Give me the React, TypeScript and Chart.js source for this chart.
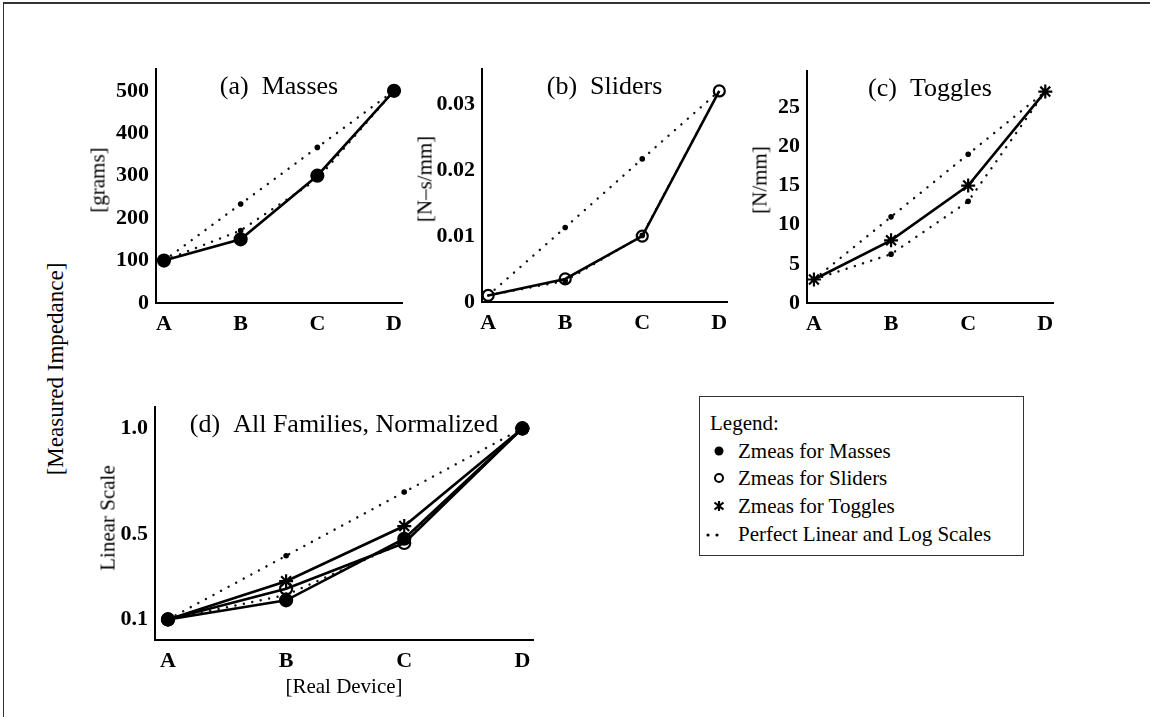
import React, { useEffect, useRef } from "react";
import { Chart, registerables } from "chart.js";
Chart.register(...registerables);

const CATEGORIES = ["A", "B", "C", "D"];

const MASSES = [100, 150, 300, 500];
const MASSES_LINEAR = [100, 233.3, 366.7, 500];
const MASSES_LOG = [100, 171, 292, 500];

const SLIDERS = [0.001, 0.0035, 0.01, 0.032];
const SLIDERS_LINEAR = [0.001, 0.0113, 0.0217, 0.032];
const SLIDERS_LOG = [0.001, 0.0032, 0.0101, 0.032];

const TOGGLES = [3, 8, 15, 27];
const TOGGLES_LINEAR = [3, 11, 19, 27];
const TOGGLES_LOG = [3, 6.24, 12.98, 27];

const NORM_MASSES = [0.1, 0.19, 0.48, 1.0];
const NORM_SLIDERS = [0.1, 0.245, 0.46, 1.0];
const NORM_TOGGLES = [0.1, 0.28, 0.54, 1.0];
const NORM_LINEAR = [0.1, 0.4, 0.7, 1.0];
const NORM_LOG = [0.1, 0.215, 0.464, 1.0];

const TICKS_MASSES = [0, 100, 200, 300, 400, 500];
const TICKS_SLIDERS = [0, 0.01, 0.02, 0.03];
const TICKS_TOGGLES = [0, 5, 10, 15, 20, 25];
const TICKS_NORM = [0.1, 0.5, 1.0];
const TICK_LABELS_NORM = ["0.1", "0.5", "1.0"];

const SERIF = "'Liberation Serif', 'Times New Roman', serif";

const pts = (vals: number[]) => vals.map((y, i) => ({ x: i, y }));

const solid = (vals: number[], style: string, fill: boolean, r = 5.5) => ({
  data: pts(vals),
  borderColor: "#000",
  borderWidth: 2.6,
  backgroundColor: fill ? "#000" : "rgba(0,0,0,0)",
  pointBorderColor: "#000",
  pointBackgroundColor: fill ? "#000" : "rgba(0,0,0,0)",
  pointBorderWidth: 2.2,
  pointStyle: style,
  pointRadius: r,
  tension: 0,
});

const dotted = (vals: number[]) => ({
  data: pts(vals),
  borderColor: "#111",
  borderWidth: 2.4,
  borderDash: [0.1, 8.5],
  borderCapStyle: "round",
  backgroundColor: "#000",
  pointBackgroundColor: "#000",
  pointBorderColor: "#000",
  pointBorderWidth: 0,
  pointStyle: "circle",
  pointRadius: [0, 2.8, 2.8, 0],
  tension: 0,
});

const AXW = 70;
const AXH = 45;
const PADT = 6;
const PADR = 16;

type PanelProps = {
  plotLeft: number;
  plotTop: number;
  plotW: number;
  plotH: number;
  xMin: number;
  xMax: number;
  yMin: number;
  yMax: number;
  yTicks: number[];
  yLabel: (v: number) => string;
  datasets: any[];
  title: string;
};

function Panel(p: PanelProps) {
  const ref = useRef<HTMLCanvasElement | null>(null);
  const w = AXW + p.plotW + PADR;
  const h = PADT + p.plotH + AXH;
  useEffect(() => {
    if (!ref.current) return;
    const titlePlugin = {
      id: "insideTitle",
      afterDraw(chart: any) {
        const { ctx, chartArea } = chart;
        ctx.save();
        ctx.font = `26px ${SERIF}`;
        ctx.fillStyle = "#000";
        ctx.textAlign = "center";
        ctx.textBaseline = "middle";
        ctx.fillText(p.title, (chartArea.left + chartArea.right) / 2, chartArea.top + 18);
        ctx.restore();
      },
    };
    const chart = new Chart(ref.current, {
      type: "line",
      data: { datasets: p.datasets },
      options: {
        animation: false,
        responsive: false,
        devicePixelRatio: 1,
        layout: { padding: { left: 0, top: PADT, right: PADR, bottom: 0 } },
        plugins: { legend: { display: false }, tooltip: { enabled: false } },
        scales: {
          x: {
            type: "linear",
            min: p.xMin,
            max: p.xMax,
            afterBuildTicks: (s: any) => {
              s.ticks = CATEGORIES.map((_, i) => ({ value: i }));
            },
            afterFit: (s: any) => {
              s.height = AXH;
            },
            ticks: {
              callback: (v: any) => CATEGORIES[Math.round(Number(v))] ?? "",
              font: { family: SERIF, size: 22, weight: "bold" },
              color: "#000",
              padding: 8,
              maxRotation: 0,
              autoSkip: false,
            },
            grid: { display: true, drawOnChartArea: false, drawTicks: false },
            border: { display: true, color: "#000", width: 2 },
          },
          y: {
            type: "linear",
            min: p.yMin,
            max: p.yMax,
            afterBuildTicks: (s: any) => {
              s.ticks = p.yTicks.map((v) => ({ value: v }));
            },
            afterFit: (s: any) => {
              s.width = AXW;
            },
            ticks: {
              callback: (v: any) => p.yLabel(Number(v)),
              font: { family: SERIF, size: 22, weight: "bold" },
              color: "#000",
              padding: 7,
              autoSkip: false,
            },
            grid: { display: true, drawOnChartArea: false, drawTicks: false },
            border: { display: true, color: "#000", width: 2 },
          },
        },
      } as any,
      plugins: [titlePlugin],
    });
    return () => chart.destroy();
  }, []);
  return (
    <canvas
      ref={ref}
      width={w}
      height={h}
      style={{
        position: "absolute",
        left: p.plotLeft - AXW,
        top: p.plotTop - PADT,
        width: w,
        height: h,
      }}
    />
  );
}

function VLabel({ x, y, text, size }: { x: number; y: number; text: string; size: number }) {
  return (
    <div
      style={{
        position: "absolute",
        left: x,
        top: y,
        transform: "translate(-50%, -50%) rotate(-90deg)",
        whiteSpace: "nowrap",
        fontFamily: SERIF,
        fontSize: size,
        color: "#000",
        lineHeight: 1,
      }}
    >
      {text}
    </div>
  );
}

function LegendRow({ y, marker, text }: { y: number; marker: React.ReactNode; text: string }) {
  return (
    <>
      <div style={{ position: "absolute", left: 711, top: y - 8, width: 16, height: 16 }}>{marker}</div>
      <div
        style={{
          position: "absolute",
          left: 738,
          top: y,
          transform: "translateY(-50%)",
          fontFamily: SERIF,
          fontSize: 21,
          whiteSpace: "nowrap",
          lineHeight: 1,
        }}
      >
        {text}
      </div>
    </>
  );
}

export default function App() {
  const fmtInt = (v: number) => String(Math.round(v));
  const fmtSl = (v: number) => (v === 0 ? "0" : v.toFixed(2));
  const fmtNorm = (v: number) => {
    const i = TICKS_NORM.findIndex((t) => Math.abs(t - v) < 1e-6);
    return i >= 0 ? TICK_LABELS_NORM[i] : "";
  };
  return (
    <div
      style={{
        position: "absolute",
        left: 0,
        top: 0,
        width: 1150,
        height: 717,
        background: "#fff",
        overflow: "hidden",
      }}
    >
      <div
        style={{
          position: "absolute",
          left: 3,
          top: 2,
          width: 1160,
          height: 730,
          borderLeft: "1.5px solid #333",
          borderTop: "2px solid #333",
        }}
      />
      <Panel
        plotLeft={156}
        plotTop={55}
        plotW={246}
        plotH={248}
        xMin={-0.104}
        xMax={3.104}
        yMin={0}
        yMax={551}
        yTicks={TICKS_MASSES}
        yLabel={fmtInt}
        title="(a)  Masses"
        datasets={[solid(MASSES, "circle", true, 6), dotted(MASSES_LINEAR), dotted(MASSES_LOG)]}
      />
      <Panel
        plotLeft={482}
        plotTop={55}
        plotW={245}
        plotH={247}
        xMin={-0.08}
        xMax={3.1}
        yMin={0}
        yMax={0.0353}
        yTicks={TICKS_SLIDERS}
        yLabel={fmtSl}
        title="(b)  Sliders"
        datasets={[solid(SLIDERS, "circle", false, 5.5), dotted(SLIDERS_LINEAR), dotted(SLIDERS_LOG)]}
      />
      <Panel
        plotLeft={807}
        plotTop={57}
        plotW={246}
        plotH={246}
        xMin={-0.09}
        xMax={3.1}
        yMin={0}
        yMax={29.6}
        yTicks={TICKS_TOGGLES}
        yLabel={fmtInt}
        title="(c)  Toggles"
        datasets={[solid(TOGGLES, "star", false, 7), dotted(TOGGLES_LINEAR), dotted(TOGGLES_LOG)]}
      />
      <Panel
        plotLeft={155}
        plotTop={393}
        plotW={378}
        plotH={247}
        xMin={-0.11}
        xMax={3.09}
        yMin={0.003}
        yMax={1.1}
        yTicks={TICKS_NORM}
        yLabel={fmtNorm}
        title="(d)  All Families, Normalized"
        datasets={[
          solid(NORM_MASSES, "circle", true, 6),
          solid(NORM_SLIDERS, "circle", false, 6),
          solid(NORM_TOGGLES, "star", false, 7),
          dotted(NORM_LINEAR),
          dotted(NORM_LOG),
        ]}
      />

      <VLabel x={98} y={180} text="[grams]" size={21} />
      <VLabel x={425} y={179} text="[N–s/mm]" size={21} />
      <VLabel x={760} y={180} text="[N/mm]" size={21} />
      <VLabel x={108} y={518} text="Linear Scale" size={21} />
      <VLabel x={55} y={369} text="[Measured Impedance]" size={23} />

      <div
        style={{
          position: "absolute",
          left: 344,
          top: 686,
          transform: "translate(-50%, -50%)",
          fontFamily: SERIF,
          fontSize: 21,
          whiteSpace: "nowrap",
          lineHeight: 1,
        }}
      >
        [Real Device]
      </div>

      <div
        style={{
          position: "absolute",
          left: 699,
          top: 396,
          width: 323,
          height: 158,
          border: "1.5px solid #333",
        }}
      />
      <div
        style={{
          position: "absolute",
          left: 710,
          top: 423,
          transform: "translateY(-50%)",
          fontFamily: SERIF,
          fontSize: 21,
          whiteSpace: "nowrap",
          lineHeight: 1,
        }}
      >
        Legend:
      </div>
      <LegendRow
        y={451}
        text="Zmeas for Masses"
        marker={<svg width="16" height="16"><circle cx="8" cy="8" r="4.5" fill="#000" /></svg>}
      />
      <LegendRow
        y={478}
        text="Zmeas for Sliders"
        marker={<svg width="16" height="16"><circle cx="8" cy="8" r="4" fill="none" stroke="#000" strokeWidth="2" /></svg>}
      />
      <LegendRow
        y={506}
        text="Zmeas for Toggles"
        marker={
          <svg width="16" height="16">
            <g stroke="#000" strokeWidth="2.2">
              <line x1="8" y1="3" x2="8" y2="13" />
              <line x1="3.5" y1="4.5" x2="12.5" y2="11.5" />
              <line x1="12.5" y1="4.5" x2="3.5" y2="11.5" />
            </g>
          </svg>
        }
      />
      <div style={{ position: "absolute", left: 703, top: 527, width: 30, height: 16 }}>
        <svg width="30" height="16">
          <circle cx="5" cy="8" r="1.6" fill="#000" />
          <circle cx="14" cy="8" r="1.6" fill="#000" />
        </svg>
      </div>
      <div
        style={{
          position: "absolute",
          left: 738,
          top: 534,
          transform: "translateY(-50%)",
          fontFamily: SERIF,
          fontSize: 21,
          whiteSpace: "nowrap",
          lineHeight: 1,
        }}
      >
        Perfect Linear and Log Scales
      </div>
    </div>
  );
}
